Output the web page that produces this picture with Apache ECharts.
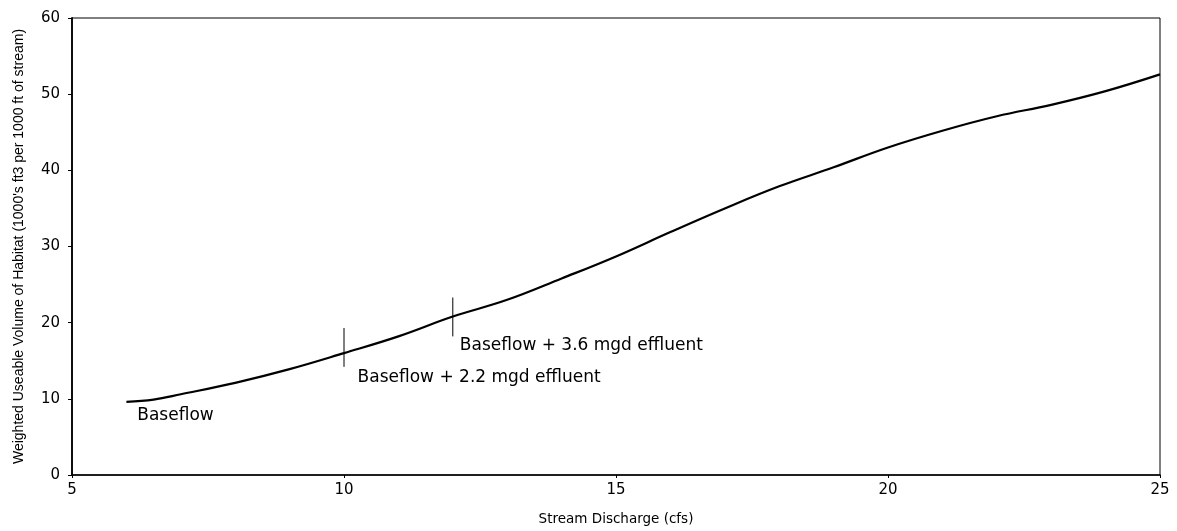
<!DOCTYPE html>
<html>
<head>
<meta charset="utf-8">
<script src="https://cdn.jsdelivr.net/npm/echarts@6/dist/echarts.min.js"></script>
<style>
html,body{margin:0;padding:0;background:#fff;}
#chart{width:1177px;height:531px;}
</style>
</head>
<body>
<div id="chart"></div>
<script>
// Stream discharge (cfs) and habitat volume
var discharge = [6, 6.5, 7, 8, 9, 10, 11, 12, 13, 14, 15, 16, 17, 18, 19, 20, 21, 22, 23, 24, 25];
var habitat   = [9.6, 9.9, 10.6, 12.1, 13.9, 16.0, 18.2, 20.8, 23.0, 25.8, 28.7, 31.9, 35.0, 37.9, 40.4, 43.0, 45.2, 47.1, 48.6, 50.4, 52.6];

// Vertical marker ticks on the curve
var markerX    = [10, 12];
var markerLow  = [14.2, 18.2];
var markerHigh = [19.3, 23.3];

// Annotation texts and anchor positions (left edge, vertical centre)
var noteText = ['Baseflow', 'Baseflow + 2.2 mgd effluent', 'Baseflow + 3.6 mgd effluent'];
var noteX    = [6.2, 10.25, 12.13];
var noteY    = [7.8, 12.8, 17.0];

var xTicks = [5, 10, 15, 20, 25];
var yTicks = [0, 10, 20, 30, 40, 50, 60];

var chart = echarts.init(document.getElementById('chart'), null, {renderer: 'canvas'});

var series = [{
  type: 'line',
  data: discharge.map(function (x, i) { return [x, habitat[i]]; }),
  smooth: 0.4,
  symbol: 'none',
  lineStyle: {color: '#000', width: 2.2},
  z: 3
}];
markerX.forEach(function (x, i) {
  series.push({
    type: 'line',
    data: [[x, markerLow[i]], [x, markerHigh[i]]],
    symbol: 'none',
    lineStyle: {color: '#000', width: 1},
    z: 2
  });
});
series.push({
  type: 'scatter',
  symbolSize: 0,
  itemStyle: {opacity: 1},
  data: noteText.map(function (t, i) { return {value: [noteX[i], noteY[i]], name: t}; }),
  label: {
    show: true,
    position: 'right',
    distance: 0,
    formatter: function (p) { return p.name; },
    color: '#000',
    opacity: 1,
    fontFamily: 'DejaVu Sans',
    fontSize: 17
  },
  silent: true
});

chart.setOption({
  animation: false,
  backgroundColor: '#fff',
  grid: {left: 72, right: 17, top: 18, bottom: 54, show: true, borderColor: '#000', borderWidth: 1},
  xAxis: {
    type: 'value',
    min: xTicks[0], max: xTicks[xTicks.length - 1], interval: 5,
    name: 'Stream Discharge (cfs)',
    nameLocation: 'middle',
    nameGap: 37,
    nameTextStyle: {color: '#000', fontFamily: 'DejaVu Sans', fontSize: 13.5},
    axisLine: {lineStyle: {color: '#000', width: 1.5}},
    axisTick: {show: true, length: 3, lineStyle: {color: '#000'}},
    axisLabel: {color: '#000', fontFamily: 'DejaVu Sans', fontSize: 15, margin: 8},
    splitLine: {show: false}
  },
  yAxis: {
    type: 'value',
    min: yTicks[0], max: yTicks[yTicks.length - 1], interval: 10,
    name: "Weighted Useable Volume of Habitat (1000's ft3 per 1000 ft of stream)",
    nameLocation: 'middle',
    nameGap: 46,
    nameTextStyle: {color: '#000', fontFamily: 'Liberation Sans', fontSize: 14},
    axisLine: {show: true, lineStyle: {color: '#000', width: 1.8}},
    axisTick: {show: true, length: 4, lineStyle: {color: '#000'}},
    axisLabel: {color: '#000', fontFamily: 'DejaVu Sans', fontSize: 15, margin: 12},
    splitLine: {show: false}
  },
  series: series
});
</script>
</body>
</html>
